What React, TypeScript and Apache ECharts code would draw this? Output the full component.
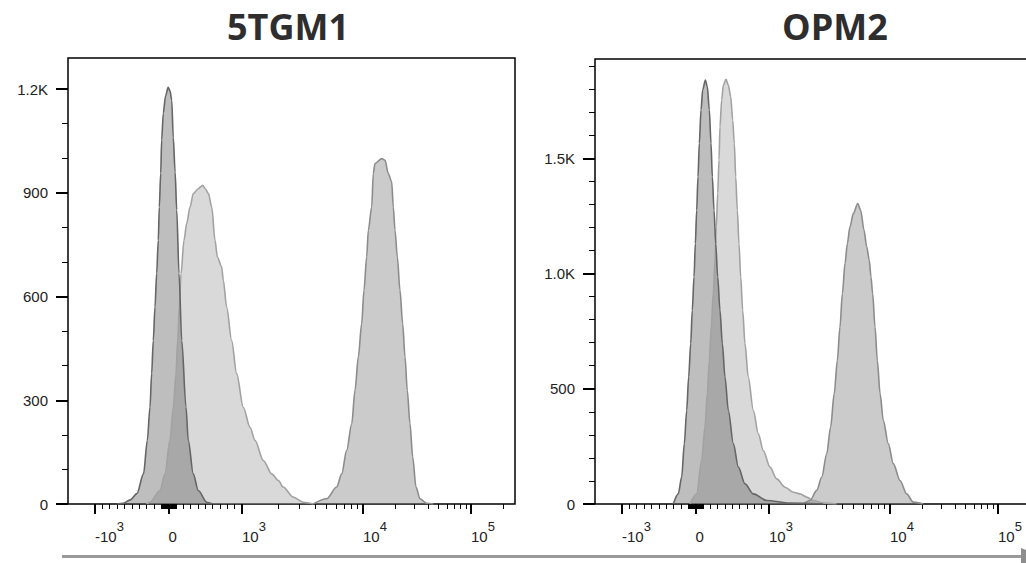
import React, { useEffect, useRef } from 'react';
import * as echarts from 'echarts';

// ---------- titles ----------
const panelTitles = ['5TGM1', 'OPM2'];

// ---------- y axis ticks ----------
const yMajorLeft = [0, 300, 600, 900, 1200];
const yLabelsLeft = ['0', '300', '600', '900', '1.2K'];
const yMinorLeft = [100, 200, 400, 500, 700, 800, 1000, 1100];
const yMaxLeft = 1290;

const yMajorRight = [0, 500, 1000, 1500];
const yLabelsRight = ['0', '500', '1.0K', '1.5K'];
const yMinorRight = [100, 200, 300, 400, 600, 700, 800, 900, 1100, 1200, 1300, 1400, 1600, 1700, 1800, 1900];
const yMaxRight = 1931;

// ---------- x axis ticks (fluorescence intensity, biexponential display) ----------
const xMajor = [-1000, 0, 1000, 10000, 100000];
const xLabelBase = ['-10', '0', '10', '10', '10'];
const xLabelExp = ['3', '', '3', '4', '5'];
const xMinor = [
  -900, -800, -700, -600, -500, -400, -300, -200, -100,
  -90, -80, -70, -60, -50, -40, -30, -20, -10,
  10, 20, 30, 40, 50, 60, 70, 80, 90,
  100, 200, 300, 400, 500, 600, 700, 800, 900,
  2000, 3000, 4000, 5000, 6000, 7000, 8000, 9000,
  20000, 30000, 40000, 50000, 60000, 70000, 80000, 90000,
  200000,
];

// ---------- histograms: [fluorescence, count] ----------
const tgm1Dark = [
  [-700, 0], [-620, 2], [-520, 12], [-430, 30], [-340, 87], [-288, 184], [-252, 280], [-229, 378],
  [-207, 473], [-184, 570], [-161, 667], [-139, 763], [-125, 859], [-106, 957], [-93, 1053], [-71, 1130],
  [-40, 1180], [-5, 1205], [20, 1195], [44, 1168], [65, 1060], [90, 960], [112, 850], [143, 667],
  [180, 473], [238, 280], [269, 184], [337, 87], [405, 39], [520, 5], [600, 0],
];
const tgm1Light = [
  [-300, 0], [-252, 5], [-116, 39], [-48, 87], [20, 184], [66, 280], [102, 377], [125, 473],
  [147, 570], [170, 666], [211, 763], [247, 811], [293, 859], [338, 898], [405, 912], [440, 918],
  [465, 922], [500, 912], [543, 898], [588, 859], [633, 763], [664, 715], [723, 686], [746, 647],
  [791, 570], [859, 473], [927, 377], [1025, 280], [1164, 222], [1281, 184], [1500, 126], [1760, 87],
  [2000, 68], [2190, 49], [2650, 20], [3210, 5], [3880, 0],
];
const tgm1Mid = [
  [3880, 0], [5010, 15], [6060, 49], [6670, 87], [7330, 155], [8070, 232], [8590, 329], [9150, 425],
  [9750, 522], [10210, 618], [10820, 715], [11200, 792], [12040, 859], [12450, 956], [12910, 985],
  [14900, 999], [15990, 994], [17150, 956], [18430, 932], [19080, 859], [19790, 792], [20790, 715],
  [22000, 618], [23290, 522], [24500, 425], [25700, 329], [27240, 232], [28860, 136], [30950, 49],
  [33700, 15], [38900, 2], [44800, 0],
];

const opm2Dark = [
  [-302, 0], [-234, 44], [-188, 117], [-152, 262], [-120, 406], [-93, 551], [-65, 696], [-44, 841],
  [-20, 986], [-2, 1130], [16, 1275], [34, 1420], [52, 1565], [75, 1710], [98, 1797], [134, 1840],
  [161, 1811], [188, 1710], [211, 1565], [229, 1420], [252, 1275], [275, 1130], [302, 986], [333, 841],
  [365, 696], [401, 551], [447, 406], [515, 262], [583, 160], [673, 88], [787, 44], [969, 15],
  [1490, 4], [2810, 0],
];
const opm2Light = [
  [-75, 0], [16, 44], [84, 189], [129, 334], [161, 479], [188, 623], [215, 768], [242, 913],
  [265, 1058], [283, 1203], [302, 1348], [320, 1493], [333, 1637], [356, 1753], [379, 1818], [415, 1843],
  [447, 1818], [479, 1768], [506, 1666], [528, 1565], [547, 1420], [569, 1275], [592, 1130], [615, 986],
  [642, 841], [673, 696], [718, 551], [787, 406], [855, 305], [922, 232], [1019, 160], [1158, 109],
  [1356, 73], [1587, 51], [1803, 44], [2050, 30], [2320, 15], [2810, 4], [3620, 0],
];
const opm2Mid = [
  [1920, 0], [2180, 15], [2480, 59], [2730, 117], [3000, 218], [3230, 334], [3460, 479], [3670, 623],
  [3860, 768], [4040, 913], [4250, 1044], [4440, 1130], [4670, 1203], [4980, 1261], [5410, 1304],
  [5720, 1275], [6100, 1188], [6420, 1116], [6740, 1058], [6960, 986], [7190, 913], [7520, 768],
  [7860, 623], [8280, 479], [8800, 363], [9680, 262], [10730, 175], [12380, 102], [14280, 44],
  [16430, 8], [20300, 0],
];

// biexponential-like display transform: fluorescence -> axis display units (0..447)
function toDisp(v: number): number {
  if (v >= 10000) return 295 + 108 * Math.log10(v / 10000);
  if (v >= 1000) return 174 + 121 * Math.log10(v / 1000);
  if (v >= -1000) return 100.5 + 0.0735 * v;
  return 27 - 73.5 * Math.log10(-v / 1000);
}
const X_EXTENT = 447;

function closestIndex(arr: number[], v: number) {
  let best = 0;
  for (let i = 1; i < arr.length; i++) if (Math.abs(arr[i] - v) < Math.abs(arr[best] - v)) best = i;
  return best;
}

const LABEL_FONT = '"Liberation Sans", Arial, sans-serif';

function buildAxes(gi: number, yMajor: number[], yLabels: string[], yMinor: number[], yMax: number) {
  const xMajorDisp = xMajor.map(toDisp);
  const xAxes = [
    {
      type: 'value', gridIndex: gi, min: 0, max: X_EXTENT, position: 'bottom',
      axisLine: { show: false, onZero: false },
      splitLine: { show: false },
      axisTick: { show: true, customValues: xMajorDisp, length: 10, lineStyle: { color: '#000', width: 2 } },
      axisLabel: {
        show: true, customValues: xMajorDisp, margin: 16, align: 'left',
        formatter: (val: number) => {
          const i = closestIndex(xMajorDisp, val);
          return xLabelExp[i] ? `{b|${xLabelBase[i]}}{s|${xLabelExp[i]}}` : `{b|${xLabelBase[i]}}`;
        },
        rich: {
          b: { fontSize: 15, fontFamily: LABEL_FONT, color: '#222', lineHeight: 24, verticalAlign: 'bottom' },
          s: { fontSize: 13, fontFamily: LABEL_FONT, color: '#222', lineHeight: 10, verticalAlign: 'top' },
        },
      },
    },
    {
      type: 'value', gridIndex: gi, min: 0, max: X_EXTENT, position: 'bottom',
      axisLine: { show: false, onZero: false },
      splitLine: { show: false },
      axisTick: { show: true, customValues: xMinor.map(toDisp), length: 5, lineStyle: { color: '#000', width: 1 } },
      axisLabel: { show: false },
    },
  ];
  const yAxes = [
    {
      type: 'value', gridIndex: gi, min: 0, max: yMax, position: 'left',
      axisLine: { show: false, onZero: false },
      splitLine: { show: false },
      axisTick: { show: true, customValues: yMajor, length: 12, lineStyle: { color: '#000', width: 2 } },
      axisLabel: {
        show: true, customValues: yMajor, margin: 20, fontSize: 15, fontFamily: LABEL_FONT, color: '#222',
        formatter: (val: number) => yLabels[closestIndex(yMajor, val)],
      },
    },
    {
      type: 'value', gridIndex: gi, min: 0, max: yMax, position: 'left',
      axisLine: { show: false, onZero: false },
      splitLine: { show: false },
      axisTick: { show: true, customValues: yMinor, length: 6, lineStyle: { color: '#000', width: 1 } },
      axisLabel: { show: false },
    },
  ];
  return { xAxes, yAxes };
}

const styles = {
  light: { line: '#a2a2a2', area: 'rgba(165,165,165,0.42)' },
  mid: { line: '#8c8c8c', area: 'rgba(130,130,130,0.42)' },
  dark: { line: '#666666', area: 'rgba(100,100,100,0.42)' },
};

function histSeries(name: string, data: number[][], kind: 'light' | 'mid' | 'dark', axisBase: number) {
  return {
    name, type: 'line', xAxisIndex: axisBase, yAxisIndex: axisBase,
    data: data.map(([v, c]) => [toDisp(v), c]),
    showSymbol: false, symbol: 'none', smooth: 0.3, smoothMonotone: 'x',
    lineStyle: { color: styles[kind].line, width: 1.6 },
    areaStyle: { color: styles[kind].area, opacity: 1, origin: 'start' },
    silent: true,
  };
}

export default function App() {
  const ref = useRef<HTMLDivElement>(null);
  useEffect(() => {
    const chart = echarts.init(ref.current!, null, { renderer: 'svg' });
    const left = buildAxes(0, yMajorLeft, yLabelsLeft, yMinorLeft, yMaxLeft);
    const right = buildAxes(1, yMajorRight, yLabelsRight, yMinorRight, yMaxRight);
    const option: any = {
      animation: false,
      backgroundColor: '#ffffff',
      grid: [
        { left: 68, top: 58, width: 447, height: 446, show: true, borderColor: '#000', borderWidth: 1.5, containLabel: false, outerBoundsMode: 'none' },
        { left: 595, top: 59, width: 447, height: 445, show: true, borderColor: '#000', borderWidth: 1.5, containLabel: false, outerBoundsMode: 'none' },
      ],
      xAxis: [...left.xAxes, ...right.xAxes],
      yAxis: [...left.yAxes, ...right.yAxes],
      series: [
        histSeries('5TGM1 light', tgm1Light, 'light', 0),
        histSeries('5TGM1 mid', tgm1Mid, 'mid', 0),
        histSeries('5TGM1 dark', tgm1Dark, 'dark', 0),
        histSeries('OPM2 light', opm2Light, 'light', 2),
        histSeries('OPM2 mid', opm2Mid, 'mid', 2),
        histSeries('OPM2 dark', opm2Dark, 'dark', 2),
      ],
      graphic: [
        {
          type: 'text', x: 288, y: 26.5,
          style: { text: panelTitles[0], font: 'bold 36px "Open Sans", sans-serif', fill: '#2e2e2e', align: 'center', verticalAlign: 'middle' },
        },
        {
          type: 'text', x: 835, y: 26.5,
          style: { text: panelTitles[1], font: 'bold 36px "Open Sans", sans-serif', fill: '#2e2e2e', align: 'center', verticalAlign: 'middle' },
        },
        {
          type: 'line', shape: { x1: 62, y1: 556.5, x2: 1022, y2: 556.5 },
          style: { stroke: '#9a9a9a', lineWidth: 3 },
        },
        {
          type: 'polygon', shape: { points: [[1021, 548], [1042, 556.5], [1021, 565]] },
          style: { fill: '#8e8e8e' },
        },
      ],
    };
    chart.setOption(option);
    return () => chart.dispose();
  }, []);
  return (
    <div
      ref={ref}
      style={{ position: 'absolute', left: 0, top: 0, width: 1026, height: 563, background: '#fff' }}
    />
  );
}
